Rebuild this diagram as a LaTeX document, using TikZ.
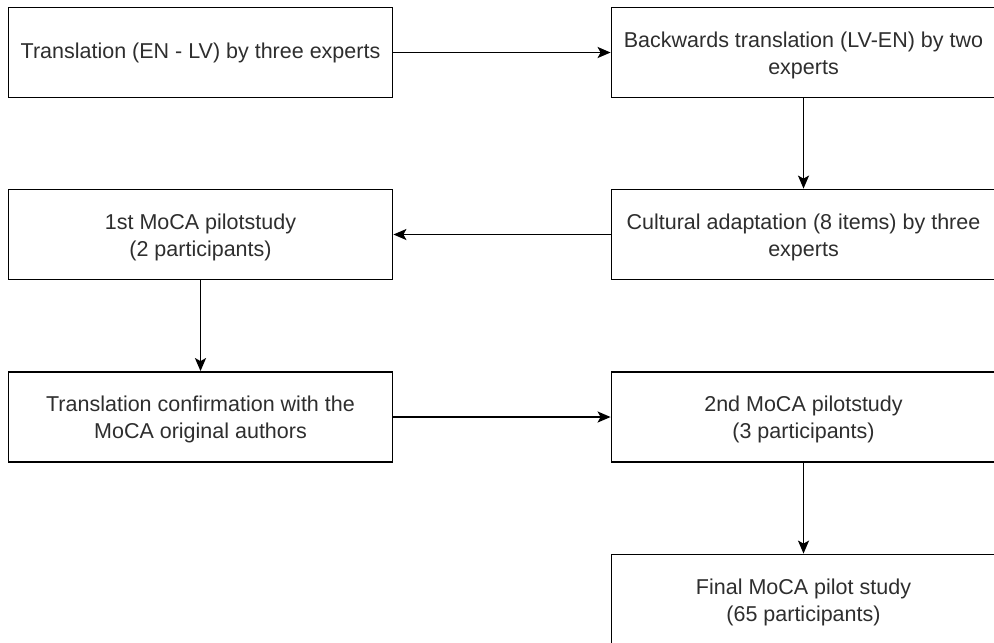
\documentclass[tikz,border=0pt]{standalone}
\usepackage{fontspec}
\setmainfont{Liberation Sans}
\usetikzlibrary{arrows.meta}
\definecolor{txt}{HTML}{2E2E2E}
\tikzset{
  stepbox/.style={draw=black, line width=1.8pt, minimum width=384pt, minimum height=90pt,
    inner sep=0pt, align=center, text=txt,
    font=\fontsize{21.5pt}{27pt}\selectfont},
  steptext/.style={align=center, text=txt, inner sep=0pt,
    font=\fontsize{21.5pt}{27pt}\selectfont, yshift=-2.5pt},
  conn/.style={draw=black, line width=1.8pt, -{Stealth[length=13pt,width=11pt,inset=3pt]}}
}
\begin{document}
\begin{tikzpicture}[x=1pt,y=-1pt]
\fill[white] (0,0) rectangle (994,643);
\useasboundingbox (0,0) rectangle (994,643);
\node[stepbox] (a) at (200.5,52.5) {Translation (EN - LV) by three experts};
\node[stepbox, label={[steptext]center:Backwards translation (LV-EN) by two\\experts}] (b) at (803.5,52.5) {};
\node[stepbox, label={[steptext]center:Cultural adaptation (8 items) by three\\experts}] (d) at (803.5,234.5) {};
\node[stepbox, label={[steptext]center:1st MoCA pilotstudy\\(2 participants)}] (c) at (200.5,234.5) {};
\node[stepbox, label={[steptext]center:Translation confirmation with the\\MoCA original authors}] (e) at (200.5,417) {};
\node[stepbox, label={[steptext]center:2nd MoCA pilotstudy\\(3 participants)}] (f) at (803.5,417) {};
\node[stepbox, label={[steptext]center:Final MoCA pilot study\\(65 participants)}] (g) at (803.5,599.5) {};
\draw[conn] (a) -- (b);
\draw[conn] (b) -- (d);
\draw[conn] (d) -- (c);
\draw[conn] (c) -- (e);
\draw[conn] (e) -- (f);
\draw[conn] (f) -- (g);
\end{tikzpicture}
\end{document}
